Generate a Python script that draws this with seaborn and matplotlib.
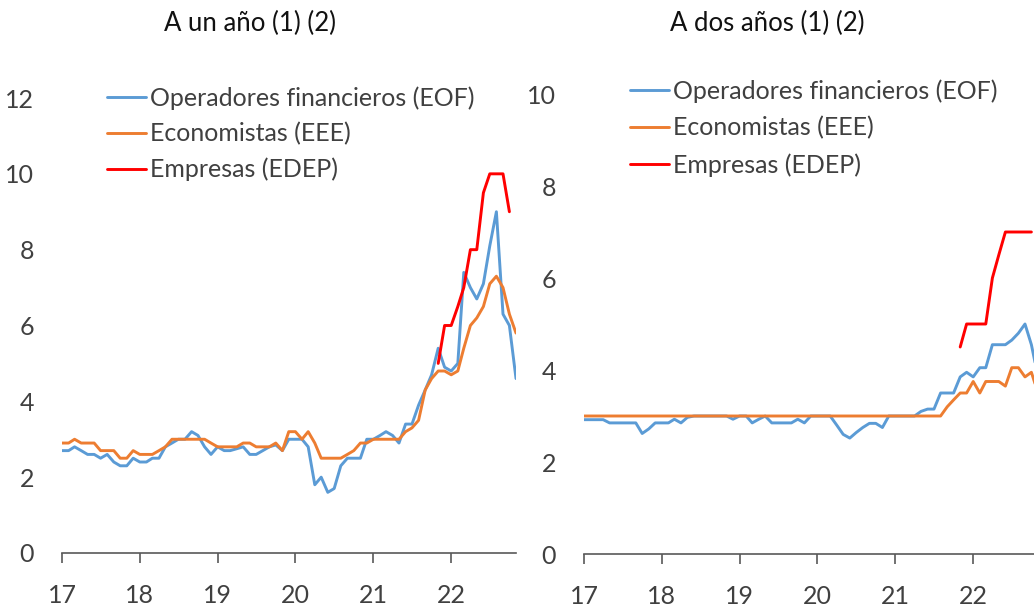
import numpy as np
import pandas as pd
import matplotlib
matplotlib.use("Agg")
import matplotlib.pyplot as plt
import matplotlib.dates as mdates
import seaborn as sns

# monthly data, Jan 2017 - Nov 2022
fechas = pd.date_range("2017-01-01", "2022-11-01", freq="MS")
fechas_edep = pd.date_range("2021-11-01", "2022-10-01", freq="MS")

# A un año
eof_1 = [2.7, 2.7, 2.8, 2.7, 2.6, 2.6, 2.5, 2.6, 2.4, 2.3, 2.3, 2.5,
         2.4, 2.4, 2.5, 2.5, 2.8, 2.9, 3.0, 3.0, 3.2, 3.1, 2.8, 2.6,
         2.8, 2.7, 2.7, 2.75, 2.8, 2.6, 2.6, 2.7, 2.8, 2.85, 2.7, 3.0,
         3.0, 3.0, 2.8, 1.8, 2.0, 1.6, 1.7, 2.3, 2.5, 2.5, 2.5, 3.0,
         3.0, 3.1, 3.2, 3.1, 2.9, 3.4, 3.4, 3.9, 4.3, 4.7, 5.4, 4.9,
         4.8, 5.0, 7.4, 7.0, 6.7, 7.1, 8.1, 9.0, 6.3, 6.0, 4.6]
eee_1 = [2.9, 2.9, 3.0, 2.9, 2.9, 2.9, 2.7, 2.7, 2.7, 2.5, 2.5, 2.7,
         2.6, 2.6, 2.6, 2.7, 2.8, 3.0, 3.0, 3.0, 3.0, 3.0, 3.0, 2.9,
         2.8, 2.8, 2.8, 2.8, 2.9, 2.9, 2.8, 2.8, 2.8, 2.9, 2.7, 3.2,
         3.2, 3.0, 3.2, 2.9, 2.5, 2.5, 2.5, 2.5, 2.6, 2.7, 2.9, 2.9,
         3.0, 3.0, 3.0, 3.0, 3.0, 3.2, 3.3, 3.5, 4.3, 4.6, 4.8, 4.8,
         4.7, 4.8, 5.4, 6.0, 6.2, 6.5, 7.1, 7.3, 7.0, 6.3, 5.8]
edep_1 = [5.0, 6.0, 6.0, 6.5, 7.0, 8.0, 8.0, 9.5, 10.0, 10.0, 10.0, 9.0]

# A dos años
eof_2 = [2.92, 2.92, 2.92, 2.92, 2.85, 2.85, 2.85, 2.85, 2.85, 2.62, 2.72, 2.85,
         2.85, 2.85, 2.93, 2.85, 2.97, 3.0, 3.0, 3.0, 3.0, 3.0, 3.0, 2.93,
         3.0, 3.0, 2.85, 2.93, 3.0, 2.85, 2.85, 2.85, 2.85, 2.93, 2.85, 3.0,
         3.0, 3.0, 3.0, 2.8, 2.6, 2.52, 2.64, 2.75, 2.84, 2.84, 2.75, 3.0,
         3.0, 3.0, 3.0, 3.0, 3.1, 3.15, 3.15, 3.5, 3.5, 3.5, 3.85, 3.95,
         3.85, 4.05, 4.05, 4.55, 4.55, 4.55, 4.65, 4.8, 5.0, 4.55, 3.85]
eee_2 = [3.0, 3.0, 3.0, 3.0, 3.0, 3.0, 3.0, 3.0, 3.0, 3.0, 3.0, 3.0,
         3.0, 3.0, 3.0, 3.0, 3.0, 3.0, 3.0, 3.0, 3.0, 3.0, 3.0, 3.0,
         3.0, 3.0, 3.0, 3.0, 3.0, 3.0, 3.0, 3.0, 3.0, 3.0, 3.0, 3.0,
         3.0, 3.0, 3.0, 3.0, 3.0, 3.0, 3.0, 3.0, 3.0, 3.0, 3.0, 3.0,
         3.0, 3.0, 3.0, 3.0, 3.0, 3.0, 3.0, 3.0, 3.2, 3.35, 3.5, 3.5,
         3.75, 3.5, 3.75, 3.75, 3.75, 3.65, 4.05, 4.05, 3.85, 3.95, 3.5]
edep_2 = [4.5, 5.0, 5.0, 5.0, 5.0, 6.0, 6.5, 7.0, 7.0, 7.0, 7.0, 7.0]

etiquetas = ["Operadores financieros (EOF)", "Economistas (EEE)", "Empresas (EDEP)"]
colores = ["#5B9BD5", "#ED7D31", "#FF0000"]
titulos = ["A un año (1) (2)", "A dos años (1) (2)"]

sns.set_style("white")
plt.rcParams["font.family"] = ["Lato", "DejaVu Sans"]
gris = "#404040"

fig = plt.figure(figsize=(10.34, 6.06), dpi=100)
ax1 = fig.add_axes([62 / 1034, 53 / 606, 454 / 1034, 455 / 606])
ax2 = fig.add_axes([584 / 1034, 52 / 606, 454 / 1034, 460 / 606])

paneles = [
    (ax1, eof_1, eee_1, edep_1, 12, (107 / 1034, 1 - 86 / 606), 0.5),
    (ax2, eof_2, eee_2, edep_2, 10, (630 / 1034, 1 - 79 / 606), 0.55),
]

for ax, eof, eee, edep, ymax, pos_leg, esp in paneles:
    sns.lineplot(x=fechas, y=eof, color=colores[0], lw=2.1, ax=ax, label=etiquetas[0], zorder=2)
    sns.lineplot(x=fechas, y=eee, color=colores[1], lw=2.1, ax=ax, label=etiquetas[1], zorder=3)
    sns.lineplot(x=fechas_edep, y=edep, color=colores[2], lw=2.1, ax=ax, label=etiquetas[2], zorder=4)

    ax.set_xlim(fechas[0], fechas[-1])
    ax.set_ylim(0, ymax)
    ax.set_yticks(np.arange(0, ymax + 1, 2))
    ax.xaxis.set_major_locator(mdates.YearLocator())
    ax.xaxis.set_major_formatter(mdates.DateFormatter("%y"))
    ax.set_xlabel("")
    ax.set_ylabel("")

    for s in ["top", "right", "left"]:
        ax.spines[s].set_visible(False)
    ax.spines["bottom"].set_color("#595959")
    ax.spines["bottom"].set_linewidth(1.2)
    ax.tick_params(axis="x", direction="out", length=7, width=1.2, color="#595959",
                   pad=15, labelsize=18, labelcolor=gris, bottom=True)
    ax.tick_params(axis="y", length=0, pad=20, labelsize=18, labelcolor=gris)
    ax.set_facecolor("none")

    leg = ax.legend(loc="upper left", bbox_to_anchor=pos_leg, bbox_transform=fig.transFigure,
                    frameon=False, fontsize=18, handlelength=1.55, handletextpad=0.18,
                    labelspacing=esp, borderpad=0, borderaxespad=0)
    for t in leg.get_texts():
        t.set_color(gris)

fig.text(250 / 1034, 1 - 23 / 606, titulos[0], ha="center", va="center", fontsize=18.5, color="#111111")
fig.text(767 / 1034, 1 - 23 / 606, titulos[1], ha="center", va="center", fontsize=18.5, color="#111111")

fig.savefig("out.png", dpi=100)
